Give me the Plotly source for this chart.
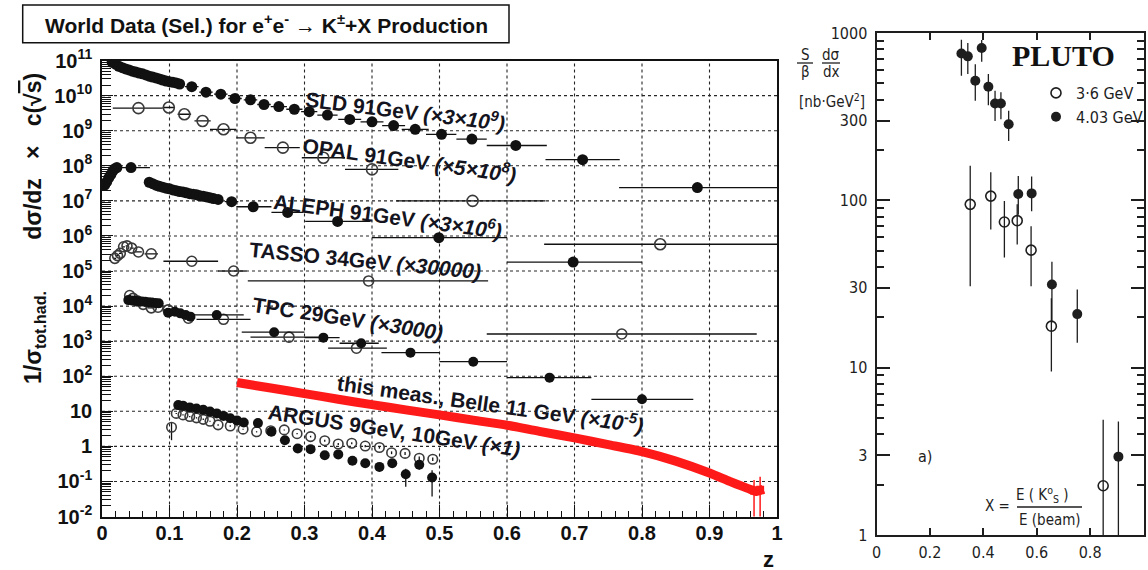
import plotly.graph_objects as go

# ===================== left panel: K+- fragmentation, scaled =====================
# SLD 91 GeV (x3e9) -- finely binned low-z points
sld_dense_z = [0.015, 0.020, 0.025, 0.030, 0.035, 0.040, 0.045, 0.050, 0.055, 0.060, 0.065,
               0.070, 0.075, 0.080, 0.085, 0.090, 0.095, 0.100, 0.105, 0.110, 0.115]
sld_dense_v = [8.9e10, 7.9e10, 6.9e10, 6.3e10, 5.8e10, 5.4e10, 5.0e10, 4.7e10, 4.4e10, 4.2e10, 3.9e10,
               3.6e10, 3.4e10, 3.2e10, 3.0e10, 2.8e10, 2.6e10, 2.5e10, 2.4e10, 2.3e10, 2.15e10]
# SLD wider bins
sld_z = [0.133, 0.154, 0.176, 0.197, 0.220, 0.240, 0.262, 0.285, 0.307, 0.334, 0.367, 0.400,
         0.432, 0.464, 0.503, 0.548, 0.613, 0.712, 0.882]
sld_v = [1.8e10, 1.26e10, 1.1e10, 8.3e9, 7.6e9, 5.6e9, 4.9e9, 4.1e9, 3.5e9, 2.8e9, 2.1e9, 1.8e9,
         1.4e9, 1.1e9, 7.9e8, 5.8e8, 3.8e8, 1.5e8, 2.4e7]
sld_dz_lo = [0.010, 0.010, 0.010, 0.010, 0.010, 0.010, 0.012, 0.012, 0.012, 0.015, 0.017, 0.017,
             0.017, 0.020, 0.023, 0.023, 0.043, 0.055, 0.116]
sld_dz_hi = [0.010, 0.010, 0.010, 0.010, 0.010, 0.010, 0.012, 0.012, 0.012, 0.015, 0.017, 0.017,
             0.017, 0.020, 0.022, 0.022, 0.046, 0.055, 0.118]

# OPAL 91 GeV (x5e8)
opal_z = [0.054, 0.099, 0.122, 0.149, 0.180, 0.220, 0.268, 0.328, 0.400, 0.549, 0.827]
opal_v = [4.4e9, 4.6e9, 2.95e9, 1.9e9, 1.1e9, 6.3e8, 3.3e8, 1.7e8, 7.9e7, 1.0e7, 5.8e5]
opal_dz_lo = [0.038, 0.009, 0.010, 0.012, 0.020, 0.021, 0.027, 0.032, 0.040, 0.113, 0.172]
opal_dz_hi = [0.036, 0.009, 0.010, 0.012, 0.019, 0.021, 0.025, 0.032, 0.039, 0.108, 0.173]

# ALEPH 91 GeV (x3e6)
aleph_dense_z = [0.004, 0.007, 0.010, 0.013, 0.016, 0.019, 0.022,
                 0.070, 0.075, 0.080, 0.085, 0.090, 0.095, 0.100, 0.105, 0.110, 0.115,
                 0.120, 0.125, 0.130, 0.135, 0.140, 0.145, 0.150, 0.155, 0.160, 0.165]
aleph_dense_v = [2.8e7, 3.5e7, 4.5e7, 5.6e7, 7.1e7, 8.3e7, 8.9e7,
                 3.4e7, 3.1e7, 2.8e7, 2.6e7, 2.45e7, 2.3e7, 2.2e7, 2.05e7, 1.95e7, 1.85e7,
                 1.8e7, 1.7e7, 1.6e7, 1.55e7, 1.5e7, 1.4e7, 1.35e7, 1.3e7, 1.23e7, 1.17e7]
aleph_z = [0.043, 0.172, 0.192, 0.224, 0.275, 0.349, 0.499, 0.698]
aleph_v = [8.9e7, 1.1e7, 9.5e6, 6.8e6, 4.7e6, 2.6e6, 8.9e5, 1.8e5]
aleph_dz_lo = [0.027, 0.005, 0.010, 0.025, 0.024, 0.048, 0.099, 0.098]
aleph_dz_hi = [0.028, 0.005, 0.010, 0.027, 0.023, 0.048, 0.101, 0.102]

# TASSO 34 GeV (x30000)
tasso_z = [0.019, 0.023, 0.027, 0.032, 0.037, 0.044, 0.054, 0.073, 0.133, 0.195, 0.395]
tasso_v = [2.3e5, 2.75e5, 3.2e5, 4.9e5, 5.2e5, 4.5e5, 3.5e5, 3.1e5, 1.9e5, 1.0e5, 5.2e4]
tasso_dz_lo = [0.002, 0.002, 0.002, 0.002, 0.002, 0.003, 0.005, 0.010, 0.042, 0.023, 0.179]
tasso_dz_hi = [0.002, 0.002, 0.002, 0.002, 0.002, 0.003, 0.005, 0.010, 0.039, 0.019, 0.177]

# TPC 29 GeV (x3000), two samples
tpcf_z = [0.039, 0.044, 0.049, 0.054, 0.059, 0.064, 0.069, 0.074, 0.079, 0.084, 0.098, 0.108,
          0.116, 0.124, 0.131, 0.170, 0.255, 0.328, 0.384, 0.457, 0.550, 0.663, 0.800]
tpcf_v = [1.48e4, 1.45e4, 1.41e4, 1.38e4, 1.35e4, 1.32e4, 1.29e4, 1.26e4, 1.23e4, 1.2e4, 6.5e3, 6.9e3,
          6.2e3, 5.6e3, 5.0e3, 5.6e3, 1.8e3, 1.26e3, 8.7e2, 4.7e2, 2.6e2, 91, 22]
tpcf_dz_lo = [0.002, 0.002, 0.002, 0.002, 0.002, 0.002, 0.002, 0.002, 0.002, 0.002, 0.005, 0.005,
              0.004, 0.004, 0.004, 0.040, 0.048, 0.028, 0.032, 0.043, 0.050, 0.063, 0.075]
tpcf_dz_hi = [0.002, 0.002, 0.002, 0.002, 0.002, 0.002, 0.002, 0.002, 0.002, 0.002, 0.005, 0.005,
              0.004, 0.004, 0.004, 0.040, 0.045, 0.024, 0.026, 0.043, 0.050, 0.062, 0.076]
tpco_z = [0.041, 0.046, 0.052, 0.061, 0.073, 0.083, 0.098, 0.128, 0.180, 0.277, 0.377, 0.770]
tpco_v = [2.0e4, 1.66e4, 1.41e4, 1.12e4, 8.9e3, 9.3e3, 7.8e3, 4.5e3, 4.2e3, 1.3e3, 6.3e2, 1.6e3]
tpco_dz_lo = [0.002, 0.002, 0.003, 0.004, 0.005, 0.005, 0.008, 0.010, 0.040, 0.057, 0.042, 0.200]
tpco_dz_hi = [0.002, 0.002, 0.003, 0.004, 0.005, 0.005, 0.008, 0.010, 0.040, 0.053, 0.045, 0.200]

# Belle 11 GeV (x1e-5): central values of the measured band
belle_z = [0.20, 0.25, 0.30, 0.35, 0.40, 0.45, 0.50, 0.55, 0.60, 0.65, 0.70, 0.75, 0.80,
           0.85, 0.90, 0.93, 0.95, 0.96, 0.97, 0.98]
belle_v = [66, 46, 32, 22, 15.5, 11, 7.9, 5.6, 4.0, 2.63, 1.74, 1.12, 0.71,
           0.38, 0.174, 0.10, 0.071, 0.060, 0.052, 0.060]
belle_end_z = [0.966, 0.975]
belle_end_v = [0.055, 0.058]
belle_end_up = [0.055, 0.079]
belle_end_dn = [0.047, 0.050]

# ARGUS 9 GeV / 10 GeV (x1)
argo_z = [0.103, 0.110, 0.120, 0.130, 0.140, 0.150, 0.160, 0.172, 0.190, 0.209, 0.229, 0.250,
          0.270, 0.289, 0.309, 0.330, 0.350, 0.370, 0.390, 0.411, 0.429, 0.449, 0.470, 0.490]
argo_v = [3.5, 8.7, 7.9, 7.1, 6.5, 5.9, 5.2, 4.1, 3.8, 3.1, 2.6, 2.8,
          2.95, 2.3, 1.9, 1.45, 1.17, 1.23, 1.02, 0.93, 0.66, 0.63, 0.46, 0.43]
argo_up = [1.3, 0.3, 0.3, 0.3, 0.3, 0.3, 0.2, 0.2, 0.2, 0.1, 0.1, 0.1,
           0.1, 0.1, 0.1, 0.1, 0.08, 0.08, 0.08, 0.07, 0.06, 0.06, 0.05, 0.05]
argo_dn = [2.0, 0.3, 0.3, 0.3, 0.3, 0.3, 0.2, 0.2, 0.2, 0.1, 0.1, 0.1,
           0.1, 0.1, 0.1, 0.1, 0.08, 0.08, 0.08, 0.07, 0.06, 0.06, 0.05, 0.05]
argf_z = [0.113, 0.120, 0.130, 0.140, 0.150, 0.160, 0.170, 0.180, 0.190, 0.200, 0.210, 0.231,
          0.251, 0.271, 0.290, 0.309, 0.330, 0.350, 0.371, 0.390, 0.411, 0.430, 0.450, 0.470, 0.489]
argf_v = [15, 14.5, 12.9, 12, 11, 9.8, 8.7, 7.4, 6.3, 5.5, 4.8, 4.6,
          2.6, 1.5, 0.87, 0.83, 0.56, 0.59, 0.39, 0.33, 0.26, 0.33, 0.16, 0.30, 0.13]
argf_up = [0.7, 0.7, 0.6, 0.6, 0.5, 0.5, 0.4, 0.4, 0.3, 0.3, 0.3, 0.3,
           0.2, 0.15, 0.1, 0.1, 0.1, 0.1, 0.07, 0.07, 0.07, 0.08, 0.07, 0.08, 0.08]
argf_dn = [0.7, 0.7, 0.6, 0.6, 0.5, 0.5, 0.4, 0.4, 0.3, 0.3, 0.3, 0.3,
           0.2, 0.15, 0.1, 0.1, 0.1, 0.1, 0.07, 0.07, 0.07, 0.08, 0.09, 0.08, 0.093]

# ===================== right panel: PLUTO K0s, s/beta dsigma/dx =====================
p36_x = [0.351, 0.428, 0.479, 0.527, 0.579, 0.655, 0.849]
p36_v = [94.6, 106, 74.2, 75.6, 50.4, 17.7, 1.97]
p36_up = [66.4, 41, 24.8, 19, 19.6, 8.3, 2.91]
p36_dn = [63.9, 39, 28.6, 21.1, 19.7, 8.2, 1.07]
p403_x = [0.318, 0.342, 0.370, 0.394, 0.419, 0.444, 0.466, 0.495, 0.531, 0.581, 0.657, 0.752, 0.906]
p403_v = [755, 725, 518, 813, 477, 379, 379, 285, 109, 110, 31.4, 20.9, 2.94]
p403_up = [155, 145, 133, 95, 91, 72, 64, 58, 31, 29, 11.6, 8.4, 1.83]
p403_dn = [200, 157, 125, 140, 107, 81, 74, 59, 27, 24, 12.8, 6.8, 1.99]

left_y_ticks = [10.0 ** k for k in range(-2, 12)]
left_y_text = ['10<sup>-2</sup>', '10<sup>-1</sup>', '1', '10'] + \
              ['10<sup>%d</sup>' % k for k in range(2, 12)]
left_x_ticks = [0, 0.1, 0.2, 0.3, 0.4, 0.5, 0.6, 0.7, 0.8, 0.9, 1.0]
left_x_text = ['0', '0.1', '0.2', '0.3', '0.4', '0.5', '0.6', '0.7', '0.8', '0.9', '1']
right_y_ticks = [1, 3, 10, 30, 100, 300, 1000]
right_y_text = ['1', '3', '10', '30', '100', '300', '1000']
right_x_ticks = [0, 0.2, 0.4, 0.6, 0.8, 1.0]
right_x_text = ['0', '0.2', '0.4', '0.6', '0.8', '1.0']

# ---------------------------------------------------------------------------
W, H = 1148, 570


def px(x):
    """page pixel column -> paper fraction"""
    return x / W


def py(y):
    """page pixel row (from the top) -> paper fraction"""
    return 1 - y / H


SANS = 'Liberation Sans, Arial, sans-serif'
NARROW = 'Liberation Sans Narrow, DejaVu Sans Condensed, Liberation Sans, sans-serif'
SERIF = 'Liberation Serif, Times New Roman, serif'
INK = '#111111'
OPEN_INK = '#3a3a3a'
OLD_INK = '#1e1e1e'
NB = '\u00a0'

fig = go.Figure()

# dotted grid of the left panel at the major ticks
for zg in left_x_ticks[1:-1]:
    fig.add_shape(type='line', xref='x', yref='y domain', x0=zg, x1=zg, y0=0, y1=1,
                  layer='below', line=dict(color='#262626', width=1.1, dash='dot'))
for vg in left_y_ticks[1:-1]:
    fig.add_shape(type='line', xref='x domain', yref='y', x0=0, x1=1, y0=vg, y1=vg,
                  layer='below', line=dict(color='#262626', width=1.1, dash='dot'))


def series(x, y, filled=True, size=11, color=INK, dx=None, dy=None, xa='x', ya='y',
           name=None, legend=False, ecolor=INK):
    if filled:
        mk = dict(size=size, color=color, symbol='circle', line=dict(width=0))
    else:
        mk = dict(size=size, color=color, symbol='circle-open', line=dict(width=1.6, color=color))
    tr = go.Scatter(x=x, y=y, mode='markers', marker=mk, xaxis=xa, yaxis=ya,
                    name=name, showlegend=legend)
    if dx is not None:
        tr.error_x = dict(type='data', symmetric=False, arrayminus=dx[0], array=dx[1],
                          width=0, thickness=1.3, color=ecolor)
    if dy is not None:
        tr.error_y = dict(type='data', symmetric=False, arrayminus=dy[0], array=dy[1],
                          width=0, thickness=1.3, color=ecolor)
    fig.add_trace(tr)


# Belle band first so the other data sit on top of it
fig.add_trace(go.Scatter(x=belle_z, y=belle_v, mode='lines', showlegend=False,
                         line=dict(color='#ff1a1a', width=9, shape='spline', smoothing=0.6),
                         xaxis='x', yaxis='y'))
fig.add_trace(go.Scatter(x=belle_end_z, y=belle_end_v, mode='markers', showlegend=False,
                         marker=dict(size=8, color='#ff1a1a', symbol='square'),
                         error_y=dict(type='data', symmetric=False, array=belle_end_up,
                                      arrayminus=belle_end_dn, width=0, thickness=1.5,
                                      color='#ff1a1a'),
                         xaxis='x', yaxis='y'))

series(sld_dense_z, sld_dense_v, size=11)
series(sld_z, sld_v, size=11, dx=(sld_dz_lo, sld_dz_hi))
series(opal_z, opal_v, filled=False, size=11, color=OPEN_INK, dx=(opal_dz_lo, opal_dz_hi))
series(aleph_dense_z, aleph_dense_v, size=11)
series(aleph_z, aleph_v, size=11, dx=(aleph_dz_lo, aleph_dz_hi))
series(tasso_z, tasso_v, filled=False, size=10, color=OPEN_INK, dx=(tasso_dz_lo, tasso_dz_hi))
series(tpco_z, tpco_v, filled=False, size=10, color=OPEN_INK, dx=(tpco_dz_lo, tpco_dz_hi))
series(tpcf_z, tpcf_v, size=10, dx=(tpcf_dz_lo, tpcf_dz_hi))
series(argo_z, argo_v, filled=False, size=9.5, color=OPEN_INK, dy=(argo_dn, argo_up))
series(argf_z, argf_v, size=10, dy=(argf_dn, argf_up))

# PLUTO
series(p36_x, p36_v, filled=False, size=10, color=OLD_INK, dy=(p36_dn, p36_up),
       xa='x2', ya='y2', name='3·6 GeV', legend=True, ecolor=OLD_INK)
series(p403_x, p403_v, size=10, color=OLD_INK, dy=(p403_dn, p403_up),
       xa='x2', ya='y2', name='4.03 GeV', legend=True, ecolor=OLD_INK)

# ---------------------------------------------------------------------------
bold20 = dict(family=SANS, size=20, color=INK, weight='bold')
narrow = dict(family=NARROW, size=16, color=OLD_INK)

left_minor_y = [k * 10.0 ** d for d in range(-2, 11) for k in range(2, 10)]
right_minor_y = [k * 10.0 ** d for d in range(0, 3) for k in (2, 4, 5, 6, 7, 8, 9)]

fig.update_layout(
    width=W, height=H, margin=dict(l=0, r=0, t=0, b=0, autoexpand=False),
    paper_bgcolor='white', plot_bgcolor='white',
    font=dict(family=SANS, color=INK),
    xaxis=dict(domain=[px(102), px(777)], range=[0, 1], anchor='y',
               showline=True, linecolor=INK, linewidth=1.6, mirror=True,
               ticks='inside', ticklen=12, tickwidth=1.3, tickcolor=INK,
               tickvals=left_x_ticks, ticktext=left_x_text, tickfont=bold20,
               ticklabelstandoff=-2, zeroline=False, showgrid=False,
               minor=dict(ticks='inside', ticklen=6, tickwidth=1.2, tickcolor=INK,
                          dtick=0.02, showgrid=False)),
    yaxis=dict(domain=[py(516.5), py(60.6)], type='log', range=[-2, 11], anchor='x',
               showline=True, linecolor=INK, linewidth=1.6, mirror=True,
               ticks='inside', ticklen=11, tickwidth=1.3, tickcolor=INK,
               tickvals=left_y_ticks, ticktext=left_y_text, tickfont=bold20,
               ticklabelstandoff=4, zeroline=False, showgrid=False,
               minor=dict(ticks='inside', ticklen=9, tickwidth=1.1, tickcolor=INK,
                          tickvals=left_minor_y, showgrid=False)),
    xaxis2=dict(domain=[px(876.5), px(1143.5)], range=[0, 1.0], anchor='y2',
                showline=True, linecolor=OLD_INK, linewidth=2, mirror='ticks',
                ticks='inside', ticklen=7, tickwidth=2, tickcolor=OLD_INK,
                tickvals=right_x_ticks, ticktext=right_x_text, tickfont=narrow,
                ticklabelstandoff=2, showgrid=False, zeroline=False),
    yaxis2=dict(domain=[py(535), py(33)], type='log', range=[0, 3], anchor='x2',
                showline=True, linecolor=OLD_INK, linewidth=2, mirror='ticks',
                ticks='inside', ticklen=13, tickwidth=2, tickcolor=OLD_INK,
                tickvals=right_y_ticks, ticktext=right_y_text, tickfont=narrow,
                ticklabelstandoff=4, showgrid=False, zeroline=False,
                minor=dict(ticks='inside', ticklen=7, tickwidth=1.5, tickcolor=OLD_INK,
                           tickvals=right_minor_y, showgrid=False)),
    legend=dict(x=px(1050), y=py(76), xanchor='left', yanchor='top',
                bgcolor='rgba(0,0,0,0)', borderwidth=0,
                font=dict(family=NARROW, size=16, color=OLD_INK),
                itemwidth=30, tracegroupgap=0, indentation=-14),
)

# title box
fig.add_shape(type='rect', xref='paper', yref='paper',
              x0=px(22.7), x1=px(509), y0=py(42.7), y1=py(5),
              line=dict(color=INK, width=1.5), fillcolor='white')

ann = []


def note(text, x, y, size=20, angle=0, family=SANS, weight='bold', color=INK,
         xref='paper', yref='paper', xanchor='center', yanchor='middle'):
    ann.append(dict(text=text, x=x, y=y, xref=xref, yref=yref, showarrow=False,
                    textangle=angle, xanchor=xanchor, yanchor=yanchor,
                    font=dict(family=family, size=size, color=color, weight=weight)))


note('World Data (Sel.) for e<sup>+</sup>e<sup>-</sup> → K<sup>±</sup>+X Production',
     px(266), py(24), size=21)
ytitle = ('1/σ<sub>tot.had.</sub>' + NB * 8 + 'dσ/dz' + NB * 3 + '×' + NB * 3 +
          'c(√<span style="text-decoration:overline">s</span>)')
note(ytitle, px(34), py(229), size=23, angle=-90)
note('z', px(768), py(559), size=22)

# series labels, in data coordinates of the left panel (y given as log10)
labels = [
    ('SLD 91GeV <i>(×3×10<sup>9</sup>)</i>', 0.449, 9.59, 7),
    ('OPAL 91GeV <i>(×5×10<sup>8</sup>)</i>', 0.456, 8.19, 8),
    ('ALEPH 91GeV <i>(×3×10<sup>6</sup>)</i>', 0.424, 6.61, 7.5),
    ('TASSO 34GeV <i>(×30000)</i>', 0.390, 5.31, 5.5),
    ('TPC 29GeV <i>(×3000)</i>', 0.364, 3.66, 8.5),
    ('this meas., Belle 11 GeV <i>(×10<sup>-5</sup>)</i>', 0.575, 1.25, 8),
    ('ARGUS 9GeV, 10GeV <i>(×1)</i>', 0.433, 0.44, 8.5),
]
for txt, zx, ly, ang in labels:
    note(txt, zx, ly, size=21, angle=ang, xref='x', yref='y', color='#141420')

# right panel texts
thin = dict(family=NARROW, weight='normal', color=OLD_INK)
note('S', px(805), py(55), size=15, **thin)
note('β', px(805), py(72), size=15, **thin)
note('dσ', px(831), py(55), size=15, **thin)
note('dx', px(831), py(72), size=15, **thin)
note('[nb·GeV<sup>2</sup>]', px(832), py(101), size=15, **thin)
note('PLUTO', px(1063), py(56), size=30, family=SERIF, color='#111111')
note('a)', px(925), py(456), size=16, **thin)
note('X =', px(997), py(506), size=15, **thin)
note('E ( K<sup>o</sup><sub>S</sub> )', px(1042), py(494), size=15, **thin)
note('E (beam)', px(1050), py(520), size=15, **thin)

for x0, x1, yy in [(797, 813, 63), (822, 840, 63), (1017, 1082, 507)]:
    fig.add_shape(type='line', xref='paper', yref='paper', x0=px(x0), x1=px(x1),
                  y0=py(yy), y1=py(yy), line=dict(color=OLD_INK, width=1.3))

fig.update_layout(annotations=ann)
fig.write_html('out.html')
